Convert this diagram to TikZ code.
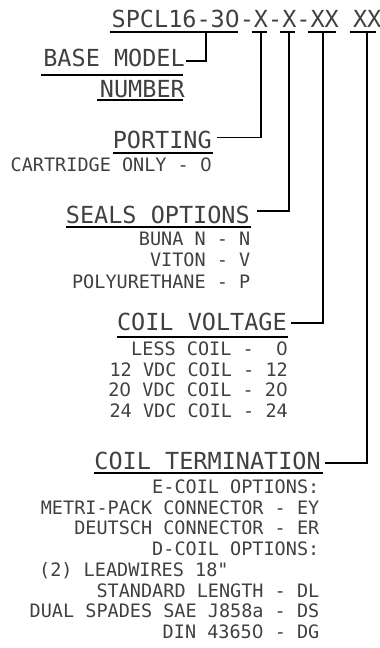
\documentclass[tikz,border=0pt]{standalone}
\usepackage{fontspec}
\newfontfamily\cadfont{DejaVu Sans Mono}
\newfontfamily\zerofont{DejaVu Sans}
\newcommand\zr{{\zerofont 0}}
\begin{document}
\begin{tikzpicture}[x=1pt,y=-1pt,
  big/.style={font=\cadfont\fontsize{23.5}{24}\selectfont,text=black!75,inner sep=0pt,anchor=base east},
  sml/.style={font=\cadfont\fontsize{18.5}{19}\selectfont,text=black!75,inner sep=0pt,anchor=base east},
  link/.style={draw=black,line width=1.1pt},
  uline/.style={draw=black,line width=1.1pt}]
\useasboundingbox (0,0) rectangle (380,648);

% header
\node[big,anchor=base west] (hdr) at (111.5,27) {SPCL16-3\zr-X-X-XX XX};
\draw[uline] (110,32) -- (238,32);
\draw[uline] (252,32) -- (267,32);
\draw[uline] (280,32) -- (295,32);
\draw[uline] (308,32) -- (336,32);
\draw[uline] (350,32) -- (376,32);
\coordinate (v0) at (206,32);
\coordinate (v1) at (261,32);
\coordinate (v2) at (289,32);
\coordinate (v3) at (323,32);
\coordinate (v4) at (367,32);

% base model
\node[big] (bm1) at (185,66) {BASE MODEL};
\node[big] (bm2) at (185,97) {NUMBER};
\draw[uline] (41,75) -- (183,75);
\draw[uline] (97,100) -- (183,100);
\draw[link] (v0) |- ([shift={(0.5,-5)}]bm1.base east);

% porting
\node[big] (port) at (212,148) {PORTING};
\draw[uline] (113,153) -- (213,153);
\node[sml] (cart) at (212,171) {CARTRIDGE ONLY - \zr};
\draw[link] ([shift={(5,-10.5)}]port.base east) -| (v1);

% seals
\node[big] (seal) at (250,223) {SEALS OPTIONS};
\draw[uline] (66,227) -- (251,227);
\node[sml] (buna) at (250.5,245) {BUNA N - N};
\node[sml] (viton) at (250.5,266.5) {VITON - V};
\node[sml] (poly) at (250.5,288) {POLYURETHANE - P};
\draw[link] ([shift={(7,-12)}]seal.base east) -| (v2);

% coil voltage
\node[big] (volt) at (287,330) {COIL VOLTAGE};
\draw[uline] (117,337) -- (288,337);
\node[sml] (less) at (288,355) {LESS COIL - \ \zr};
\node[sml] (c12) at (288,376.5) {12 VDC COIL - 12};
\node[sml] (c20) at (288,396.5) {2\zr{} VDC COIL - 2\zr};
\node[sml] (c24) at (288,417) {24 VDC COIL - 24};
\draw[link] ([shift={(4,-7)}]volt.base east) -| (v3);

% coil termination
\node[big] (term) at (321,469) {COIL TERMINATION};
\draw[uline] (94,473) -- (323,473);
\node[sml] (ecoil) at (319.5,493) {E-COIL OPTIONS:};
\node[sml] (metri) at (319.5,514) {METRI-PACK CONNECTOR - EY};
\node[sml] (deut) at (319.5,534.5) {DEUTSCH CONNECTOR - ER};
\node[sml] (dcoil) at (319.5,555.5) {D-COIL OPTIONS:};
\node[sml,anchor=base west] (lead) at (39,576.5) {(2) LEADWIRES 18"};
\node[sml] (std) at (319.5,597) {STANDARD LENGTH - DL};
\node[sml] (dual) at (319.5,617.5) {DUAL SPADES SAE J858a - DS};
\node[sml] (din) at (319.5,638.5) {DIN 4365\zr{} - DG};
\draw[link] ([shift={(4,-6)}]term.base east) -| (v4);
\end{tikzpicture}
\end{document}
